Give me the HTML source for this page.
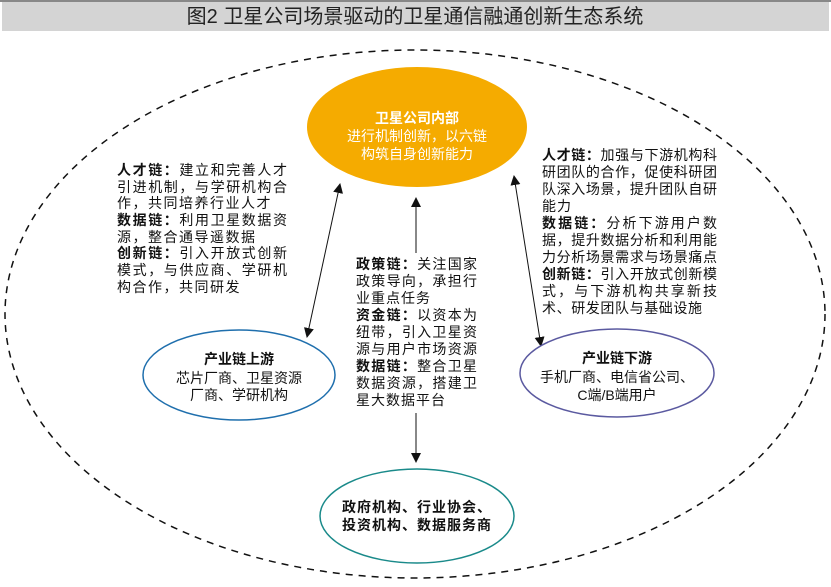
<!DOCTYPE html>
<html><head><meta charset="utf-8"><style>
html,body{margin:0;padding:0;background:#fff;width:831px;height:587px;overflow:hidden}
svg{display:block}
text{font-family:"Liberation Sans","Noto Sans CJK SC",sans-serif;font-size:14px;fill:#111}
.b{font-weight:bold}
.w{fill:#fff}
.ls{letter-spacing:1.5px}
.ls1{letter-spacing:1px}
</style></head><body>
<svg width="831" height="587" viewBox="0 0 831 587" xmlns="http://www.w3.org/2000/svg">
<defs>
<marker id="ah" markerWidth="10" markerHeight="10" refX="9" refY="5" orient="auto-start-reverse" markerUnits="userSpaceOnUse">
<path d="M0,0 L10,5 L0,10 z" fill="#111"/></marker>
</defs>
<rect x="0" y="0" width="831" height="2" fill="#888"/>
<rect x="2" y="2" width="827" height="29" fill="#d4d4d4"/>
<text x="415" y="23" text-anchor="middle" style="font-size:20px;fill:#222">图2  卫星公司场景驱动的卫星通信融通创新生态系统</text>

<ellipse cx="415" cy="314" rx="410" ry="264" fill="none" stroke="#111" stroke-width="1.5" stroke-dasharray="7,6"/>

<ellipse cx="417" cy="127" rx="110" ry="60" fill="#f5ab00"/>
<text x="417" y="123" text-anchor="middle" class="b w">卫星公司内部</text>
<text x="417" y="141" text-anchor="middle" class="w">进行机制创新，以六链</text>
<text x="417" y="159" text-anchor="middle" class="w">构筑自身创新能力</text>

<line x1="340" y1="184" x2="307" y2="337" stroke="#111" stroke-width="1" marker-start="url(#ah)" marker-end="url(#ah)"/>
<line x1="514" y1="176" x2="541" y2="346" stroke="#111" stroke-width="1" marker-start="url(#ah)" marker-end="url(#ah)"/>
<line x1="416" y1="198" x2="416" y2="462" stroke="#111" stroke-width="1" marker-start="url(#ah)" marker-end="url(#ah)"/>
<rect x="352" y="253" width="128" height="160" fill="#fff"/>

<ellipse cx="239" cy="375" rx="96" ry="45" fill="#fff" stroke="#1f6fad" stroke-width="1.5"/>
<text x="239" y="364" text-anchor="middle" class="b">产业链上游</text>
<text x="239" y="383" text-anchor="middle">芯片厂商、卫星资源</text>
<text x="239" y="400" text-anchor="middle">厂商、学研机构</text>

<ellipse cx="617" cy="373" rx="97" ry="44" fill="#fff" stroke="#5b5aa0" stroke-width="1.5"/>
<text x="617" y="363" text-anchor="middle" class="b">产业链下游</text>
<text x="617" y="382" text-anchor="middle">手机厂商、电信省公司、</text>
<text x="617" y="400" text-anchor="middle">C端/B端用户</text>

<ellipse cx="417" cy="516" rx="97" ry="47" fill="#fff" stroke="#1a8a8a" stroke-width="1.5"/>
<text x="417" y="512" text-anchor="middle" class="b ls1">政府机构、行业协会、</text>
<text x="417" y="530" text-anchor="middle" class="b ls1">投资机构、数据服务商</text>

<g>
<text x="117" y="175" textLength="170"><tspan class="b">人才链：</tspan>建立和完善人才</text>
<text x="117" y="192" textLength="170">引进机制，与学研机构合</text>
<text x="117" y="208" class="ls">作，共同培养行业人才</text>
<text x="117" y="225" textLength="170"><tspan class="b">数据链：</tspan>利用卫星数据资</text>
<text x="117" y="242" class="ls">源，整合通导遥数据</text>
<text x="117" y="258" textLength="170"><tspan class="b">创新链：</tspan>引入开放式创新</text>
<text x="117" y="275" textLength="170">模式，与供应商、学研机</text>
<text x="117" y="292" class="ls">构合作，共同研发</text>
</g>

<g>
<text x="356" y="269" textLength="121"><tspan class="b">政策链：</tspan>关注国家</text>
<text x="356" y="286" textLength="121">政策导向，承担行</text>
<text x="356" y="303" class="ls1">业重点任务</text>
<text x="356" y="320" textLength="121"><tspan class="b">资金链：</tspan>以资本为</text>
<text x="356" y="337" textLength="121">纽带，引入卫星资</text>
<text x="356" y="354" textLength="121">源与用户市场资源</text>
<text x="356" y="371" textLength="121"><tspan class="b">数据链：</tspan>整合卫星</text>
<text x="356" y="388" textLength="121">数据资源，搭建卫</text>
<text x="356" y="405" class="ls1">星大数据平台</text>
</g>

<g>
<text x="542" y="160" textLength="175"><tspan class="b">人才链：</tspan>加强与下游机构科</text>
<text x="542" y="177" textLength="175">研团队的合作，促使科研团</text>
<text x="542" y="194" textLength="175">队深入场景，提升团队自研</text>
<text x="542" y="211" class="ls1">能力</text>
<text x="542" y="228" textLength="175"><tspan class="b">数据链：</tspan>分析下游用户数</text>
<text x="542" y="245" textLength="175">据，提升数据分析和利用能</text>
<text x="542" y="262" textLength="175">力分析场景需求与场景痛点</text>
<text x="542" y="279" textLength="175"><tspan class="b">创新链：</tspan>引入开放式创新模</text>
<text x="542" y="296" textLength="175">式，与下游机构共享新技</text>
<text x="542" y="313" textLength="160">术、研发团队与基础设施</text>
</g>
</svg>
</body></html>
